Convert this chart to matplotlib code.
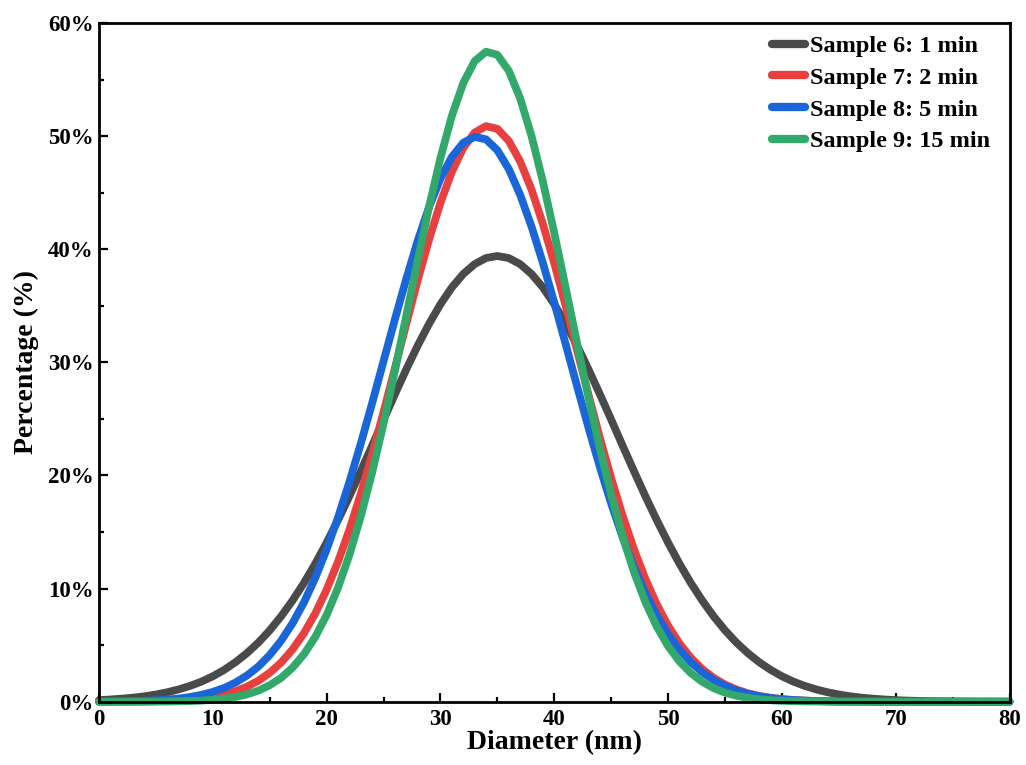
import matplotlib
matplotlib.use("Agg")
import matplotlib.pyplot as plt
from matplotlib.ticker import MultipleLocator, FuncFormatter

# ---------------- data ----------------
diameter = list(range(0, 81))  # nm

sample6 = [0.14, 0.20, 0.27, 0.36, 0.48, 0.64, 0.84, 1.09, 1.40, 1.78,
           2.25, 2.82, 3.50, 4.30, 5.23, 6.31, 7.55, 8.94, 10.49, 12.20,
           14.06, 16.06, 18.17, 20.38, 22.64, 24.93, 27.19, 29.39, 31.48, 33.41,
           35.14, 36.62, 37.81, 38.68, 39.22, 39.40, 39.22, 38.68, 37.81, 36.62,
           35.14, 33.41, 31.48, 29.39, 27.19, 24.93, 22.64, 20.38, 18.17, 16.06,
           14.06, 12.20, 10.49, 8.94, 7.55, 6.31, 5.23, 4.30, 3.50, 2.82,
           2.25, 1.78, 1.40, 1.09, 0.84, 0.64, 0.48, 0.36, 0.27, 0.20,
           0.14, 0.10, 0.07, 0.05, 0.04, 0.03, 0.02, 0.01, 0.01, 0.01, 0.00]

sample7 = [0.00, 0.00, 0.01, 0.02, 0.03, 0.05, 0.08, 0.13, 0.19, 0.29,
           0.44, 0.65, 0.93, 1.33, 1.86, 2.56, 3.46, 4.62, 6.05, 7.81,
           9.91, 12.38, 15.21, 18.39, 21.88, 25.61, 29.50, 33.42, 37.26, 40.87,
           44.11, 46.84, 48.94, 50.31, 50.88, 50.64, 49.58, 47.76, 45.27, 42.22,
           38.74, 34.98, 31.07, 27.16, 23.35, 19.76, 16.45, 13.47, 10.86, 8.61,
           6.72, 5.15, 3.89, 2.89, 2.11, 1.52, 1.08, 0.75, 0.51, 0.35,
           0.23, 0.15, 0.10, 0.06, 0.04, 0.02, 0.01, 0.01, 0.00, 0.00,
           0.00, 0.00, 0.00, 0.00, 0.00, 0.00, 0.00, 0.00, 0.00, 0.00, 0.00]

sample8 = [0.01, 0.02, 0.03, 0.05, 0.08, 0.12, 0.19, 0.28, 0.42, 0.61,
           0.87, 1.22, 1.70, 2.32, 3.11, 4.13, 5.39, 6.93, 8.77, 10.95,
           13.46, 16.29, 19.43, 22.82, 26.41, 30.11, 33.81, 37.40, 40.75, 43.74,
           46.24, 48.16, 49.41, 49.93, 49.71, 48.75, 47.09, 44.81, 42.00, 38.78,
           35.27, 31.60, 27.89, 24.24, 20.76, 17.51, 14.55, 11.91, 9.60, 7.63,
           5.97, 4.60, 3.49, 2.61, 1.92, 1.40, 1.00, 0.70, 0.49, 0.33,
           0.22, 0.15, 0.10, 0.06, 0.04, 0.02, 0.02, 0.01, 0.01, 0.00,
           0.00, 0.00, 0.00, 0.00, 0.00, 0.00, 0.00, 0.00, 0.00, 0.00, 0.00]

sample9 = [0.00, 0.00, 0.00, 0.00, 0.00, 0.01, 0.02, 0.04, 0.06, 0.10,
           0.17, 0.27, 0.42, 0.65, 0.98, 1.46, 2.11, 3.01, 4.19, 5.73,
           7.67, 10.08, 12.98, 16.39, 20.28, 24.61, 29.27, 34.14, 39.03, 43.75,
           48.07, 51.78, 54.68, 56.62, 57.46, 57.18, 55.78, 53.34, 50.01, 45.97,
           41.42, 36.59, 31.69, 26.91, 22.40, 18.28, 14.62, 11.47, 8.82, 6.65,
           4.91, 3.56, 2.53, 1.76, 1.20, 0.80, 0.53, 0.34, 0.21, 0.13,
           0.08, 0.05, 0.03, 0.02, 0.01, 0.00, 0.00, 0.00, 0.00, 0.00,
           0.00, 0.00, 0.00, 0.00, 0.00, 0.00, 0.00, 0.00, 0.00, 0.00, 0.00]

labels = ["Sample 6: 1 min", "Sample 7: 2 min", "Sample 8: 5 min", "Sample 9: 15 min"]
colors = ["#4a4a4a", "#e8403f", "#1a66d9", "#33a86b"]
series = [sample6, sample7, sample8, sample9]

x_ticks = [0, 10, 20, 30, 40, 50, 60, 70, 80]
y_ticks = [0, 10, 20, 30, 40, 50, 60]

# ---------------- figure ----------------
plt.rcParams["font.family"] = ["Liberation Serif", "DejaVu Serif"]
plt.rcParams["font.weight"] = "bold"

fig = plt.figure(figsize=(10.26, 7.65), dpi=100)
ax = fig.add_axes([0.0965, 0.0827, 0.8875, 0.8873])

for y, c, lab in zip(series, colors, labels):
    ax.plot(diameter, y, color=c, lw=5.6, label=lab, solid_capstyle="round",
            solid_joinstyle="round", clip_on=False, zorder=2)

ax.set_xlim(0, 80)
ax.set_ylim(0, 60)
ax.set_xticks(x_ticks)
ax.set_yticks(y_ticks)
ax.xaxis.set_minor_locator(MultipleLocator(5))
ax.yaxis.set_minor_locator(MultipleLocator(5))
ax.yaxis.set_major_formatter(FuncFormatter(lambda v, p: f"{v:.0f}%"))

for s in ax.spines.values():
    s.set_linewidth(2.0)
    s.set_zorder(3)

ax.tick_params(which="major", direction="in", length=6.5, width=1.6,
               labelsize=16.5, pad=5)
ax.tick_params(which="minor", direction="in", length=3.5, width=1.6)
ax.tick_params(axis="y", pad=4)
for lbl in ax.get_xticklabels() + ax.get_yticklabels():
    lbl.set_fontweight("bold")

ax.set_xlabel("Diameter (nm)", fontsize=20, fontweight="bold", labelpad=0)
ax.set_ylabel("Percentage (%)", fontsize=20, fontweight="bold", labelpad=6)

leg = ax.legend(loc="upper right", bbox_to_anchor=(0.992, 1.0), frameon=False,
                fontsize=17.5, handlelength=1.35, handletextpad=0.2,
                labelspacing=0.4, borderaxespad=0.3, borderpad=0.2)
for t in leg.get_texts():
    t.set_fontweight("bold")
for h in leg.get_lines():
    h.set_linewidth(6.0)

fig.savefig("out.png", dpi=100)
